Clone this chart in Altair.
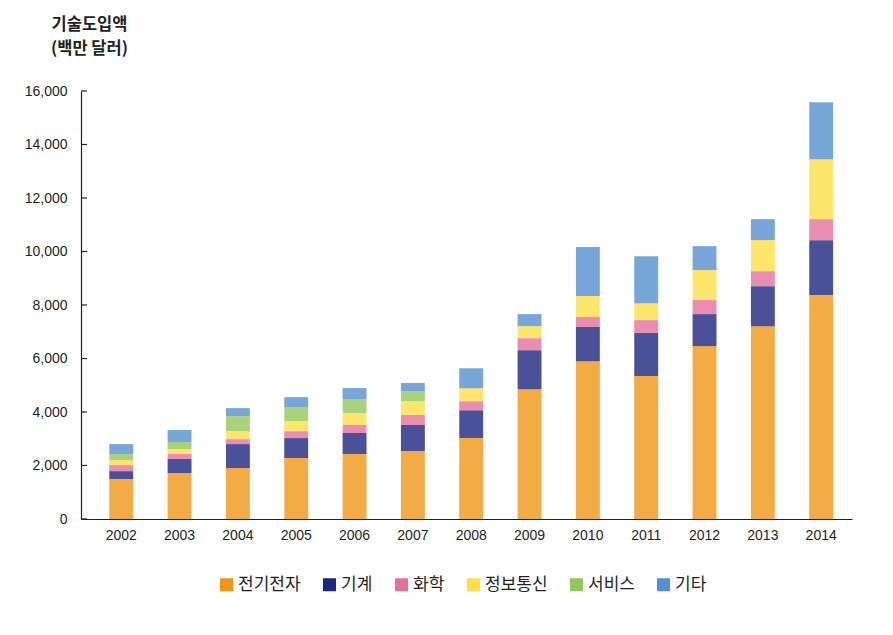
import altair as alt
import pandas as pd

years = ["2002", "2003", "2004", "2005", "2006", "2007", "2008",
         "2009", "2010", "2011", "2012", "2013", "2014"]
series_names = ["전기전자", "기계", "화학", "정보통신", "서비스", "기타"]

elec = [1490, 1720, 1905, 2280, 2430, 2540, 3025, 4855, 5900, 5345, 6465, 7210, 8370]
mach = [300, 525, 895, 745, 785, 970, 1045, 1455, 1275, 1605, 1195, 1495, 2055]
chem = [225, 185, 185, 260, 300, 375, 335, 450, 375, 485, 525, 560, 785]
info = [185, 185, 300, 375, 450, 520, 485, 450, 785, 635, 1120, 1160, 2240]
serv = [225, 260, 560, 520, 520, 375, 0, 0, 0, 0, 0, 0, 0]
etc_ = [375, 450, 300, 375, 410, 300, 745, 450, 1830, 1755, 895, 785, 2130]

y_ticks = [0, 2000, 4000, 6000, 8000, 10000, 12000, 14000, 16000]

colors = ["#EF9617", "#1D2580", "#E5709C", "#FCE046", "#92C75A", "#5690CE"]

rows = []
for i, (name, vals) in enumerate(zip(series_names, [elec, mach, chem, info, serv, etc_])):
    for y, v in zip(years, vals):
        rows.append({"year": y, "series": name, "value": v, "idx": i})
df = pd.DataFrame(rows)
ticks_df = pd.DataFrame({"value": y_ticks})

TXT = "#231F20"
KR = "Noto Sans CJK KR"
NUM = "Liberation Sans"

y_axis = alt.Axis(values=y_ticks, format=",d", grid=False, ticks=False,
                  labelPadding=14, labelFont=NUM, labelFontSize=14,
                  labelColor=TXT, domainColor=TXT, domainWidth=1.2,
                  title=["기술도입액", "(백만 달러)"], titleAngle=0,
                  titleX=8, titleY=-75, titleAlign="center",
                  titleBaseline="top", titleFont=KR, titleFontSize=16.5,
                  titleFontWeight="bold", titleColor=TXT,
                  titleLineHeight=24)
y_scale = alt.Scale(domain=[0, 16000], nice=False)

bars = alt.Chart(df).mark_bar(opacity=0.8, strokeWidth=0).encode(
    x=alt.X("year:N", sort=years,
            scale=alt.Scale(paddingInner=0.59, paddingOuter=0.404, align=0.6),
            axis=alt.Axis(title=None, labelAngle=0, ticks=False, labelPadding=9,
                          labelFont=NUM, labelFontSize=14, labelColor=TXT,
                          domainColor=TXT, domainWidth=1.2)),
    y=alt.Y("value:Q", stack="zero", scale=y_scale, axis=y_axis),
    color=alt.Color("series:N",
                    scale=alt.Scale(domain=series_names, range=colors),
                    legend=alt.Legend(title=None, orient="none", direction="horizontal",
                                      columns=6, legendX=137, legendY=485,
                                      symbolType="square", symbolSize=169,
                                      symbolOpacity=1, symbolStrokeWidth=0,
                                      labelFont=KR, labelFontSize=17, labelColor=TXT,
                                      labelOffset=3, columnPadding=20, padding=0)),
    order=alt.Order("idx:Q", sort="ascending"),
)

tick_marks = alt.Chart(ticks_df).mark_rule(color=TXT, strokeWidth=1.2).encode(
    y=alt.Y("value:Q", scale=y_scale, axis=y_axis),
    x=alt.value(0),
    x2=alt.value(6),
)

chart = alt.layer(bars, tick_marks).properties(
    width=771, height=428,
    autosize=alt.AutoSizeParams(type="none"),
    padding={"left": 73, "top": 83, "right": 33, "bottom": 108},
).configure(background="white").configure_view(stroke=None)

chart.save("out.html", embed_options={"renderer": "svg", "actions": False})
